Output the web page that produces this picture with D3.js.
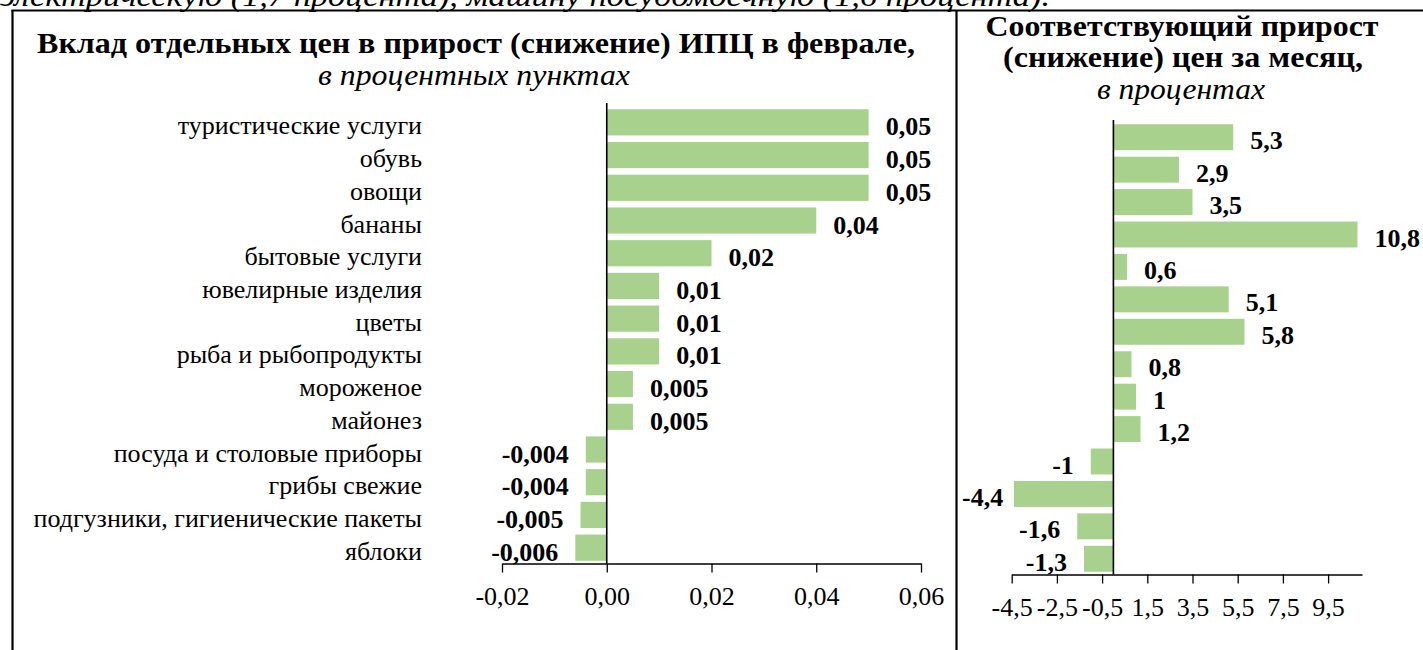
<!DOCTYPE html>
<html>
<head>
<meta charset="utf-8">
<script src="https://cdn.jsdelivr.net/npm/d3@7"></script>
<style>
  body { margin: 0; background: #fff; }
  svg { display: block; }
  text { font-family: "Liberation Serif", "Times New Roman", serif; fill: #000; }
</style>
</head>
<body>
<div id="chart"></div>
<script>
// categories (top to bottom)
var categories = [
  "туристические услуги", "обувь", "овощи", "бананы", "бытовые услуги",
  "ювелирные изделия", "цветы", "рыба и рыбопродукты", "мороженое", "майонез",
  "посуда и столовые приборы", "грибы свежие", "подгузники, гигиенические пакеты", "яблоки"
];
// contribution to CPI growth, p.p.
var contribution = [0.05, 0.05, 0.05, 0.04, 0.02, 0.01, 0.01, 0.01, 0.005, 0.005, -0.004, -0.004, -0.005, -0.006];
// monthly price change, %
var priceChange = [5.3, 2.9, 3.5, 10.8, 0.6, 5.1, 5.8, 0.8, 1, 1.2, -1, -4.4, -1.6, -1.3];

var leftTicks = [-0.02, 0, 0.02, 0.04, 0.06];
var rightTicks = [-4.5, -2.5, -0.5, 1.5, 3.5, 5.5, 7.5, 9.5];

var width = 1423, height = 650;
var barColor = "#a9d18e";
var comma = function(v) { return String(v).replace(".", ","); };
var tickFmt = function(f) {
    return function(d) { return d3.format(f)(d).replace(".", ",").replace("\u2212", "-"); };
};

var svg = d3.select("#chart").append("svg")
    .attr("width", width)
    .attr("height", height);

// titles, fitted to the width they have in the original
function title(x, y, txt, len, italic) {
    return svg.append("text")
        .attr("x", x).attr("y", y)
        .attr("text-anchor", "middle")
        .attr("textLength", len)
        .attr("lengthAdjust", "spacingAndGlyphs")
        .style("font-size", "30px")
        .style("font-weight", italic ? "normal" : "bold")
        .style("font-style", italic ? "italic" : "normal")
        .text(txt);
}

// text cut at the top of the page
svg.append("text")
    .attr("x", 0)
    .attr("y", 6)
    .attr("textLength", 1050)
    .attr("lengthAdjust", "spacingAndGlyphs")
    .style("font-size", "30px")
    .style("font-style", "italic")
    .text("электрическую (1,7 процента), машину посудомоечную (1,6 процента).");

// frame
svg.append("line").attr("x1", 11.5).attr("x2", width).attr("y1", 10.5).attr("y2", 10.5)
    .attr("stroke", "#000").attr("stroke-width", 2.2);
svg.append("line").attr("x1", 12.5).attr("x2", 12.5).attr("y1", 10).attr("y2", height)
    .attr("stroke", "#000").attr("stroke-width", 2.2);
svg.append("line").attr("x1", 956.5).attr("x2", 956.5).attr("y1", 10).attr("y2", height)
    .attr("stroke", "#000").attr("stroke-width", 2.2);

// ---------- left chart ----------
var xL = d3.scaleLinear().domain([-0.02, 0.06]).range([502, 921]);
var yL = d3.scaleBand().domain(categories).range([106, 564])
    .paddingInner(0.2).paddingOuter(0.1);

title(476, 53, "Вклад отдельных цен в прирост (снижение) ИПЦ в феврале,", 878, false);
title(474, 85, "в процентных пунктах", 312, true);

var left = svg.append("g");

left.selectAll("rect")
    .data(contribution)
    .enter()
    .append("rect")
    .attr("x", function(d) { return xL(Math.min(0, d)); })
    .attr("y", function(d, i) { return yL(categories[i]); })
    .attr("width", function(d) { return Math.abs(xL(d) - xL(0)); })
    .attr("height", yL.bandwidth())
    .attr("fill", barColor);

left.selectAll(".cat")
    .data(categories)
    .enter()
    .append("text")
    .attr("class", "cat")
    .attr("x", 422)
    .attr("y", function(d) { return yL(d) + yL.bandwidth() / 2 + 3; })
    .attr("dy", "0.35em")
    .attr("text-anchor", "end")
    .style("font-size", "26px")
    .text(function(d) { return d; });

left.selectAll(".val")
    .data(contribution)
    .enter()
    .append("text")
    .attr("class", "val")
    .attr("x", function(d) { return d >= 0 ? xL(d) + 17 : xL(d) - 17; })
    .attr("y", function(d, i) { return yL(categories[i]) + yL.bandwidth() / 2 + 4; })
    .attr("dy", "0.35em")
    .attr("text-anchor", function(d) { return d >= 0 ? "start" : "end"; })
    .style("font-size", "26px").style("font-weight", "bold")
    .text(function(d) { return comma(d); });

var axisL = left.append("g")
    .attr("transform", "translate(0,563.5)")
    .call(d3.axisBottom(xL).tickValues(leftTicks).tickSize(9).tickSizeOuter(0)
        .tickPadding(14).tickFormat(tickFmt(".2f")));
axisL.selectAll("text").style("font-size", "26px").attr("fill", "#000")
    .style("font-family", "'Liberation Serif', 'Times New Roman', serif");
axisL.selectAll("path, line").attr("stroke", "#000").attr("stroke-width", 1.3);

left.append("line")
    .attr("x1", xL(0)).attr("x2", xL(0))
    .attr("y1", 103).attr("y2", 563.5)
    .attr("stroke", "#000").attr("stroke-width", 1.6);

// ---------- right chart ----------
var xR = d3.scaleLinear().domain([-4.5, 11]).range([1011.7, 1362]);
var yR = d3.scaleBand().domain(d3.range(priceChange.length)).range([121, 575])
    .paddingInner(0.2).paddingOuter(0.1);

title(1182, 36, "Соответствующий прирост", 393, false);
title(1183, 67, "(снижение) цен за месяц,", 360, false);
title(1181, 99, "в процентах", 168, true);

var right = svg.append("g");

right.selectAll("rect")
    .data(priceChange)
    .enter()
    .append("rect")
    .attr("x", function(d) { return xR(Math.min(0, d)); })
    .attr("y", function(d, i) { return yR(i); })
    .attr("width", function(d) { return Math.abs(xR(d) - xR(0)); })
    .attr("height", yR.bandwidth())
    .attr("fill", barColor);

right.selectAll(".val")
    .data(priceChange)
    .enter()
    .append("text")
    .attr("class", "val")
    .attr("y", function(d, i) { return yR(i) + yR.bandwidth() / 2 + 3; })
    .attr("dy", "0.35em")
    .style("font-size", "26px").style("font-weight", "bold")
    .text(function(d) { return comma(d); })
    .each(function(d) {
        var w = this.getComputedTextLength();
        var x = d >= 0 ? xR(d) + 17 : Math.max(xR(d) - 17 - w, 962);
        d3.select(this).attr("x", x);
    });

var axisR = right.append("g")
    .attr("transform", "translate(0,574.5)")
    .call(d3.axisBottom(xR).tickValues(rightTicks).tickSize(9).tickSizeOuter(0)
        .tickPadding(14).tickFormat(tickFmt(".1f")));
axisR.selectAll("text").style("font-size", "26px").attr("fill", "#000")
    .style("font-family", "'Liberation Serif', 'Times New Roman', serif");
axisR.selectAll("path, line").attr("stroke", "#000").attr("stroke-width", 1.3);

right.append("line")
    .attr("x1", xR(0)).attr("x2", xR(0))
    .attr("y1", 120).attr("y2", 574.5)
    .attr("stroke", "#000").attr("stroke-width", 1.6);
</script>
</body>
</html>
